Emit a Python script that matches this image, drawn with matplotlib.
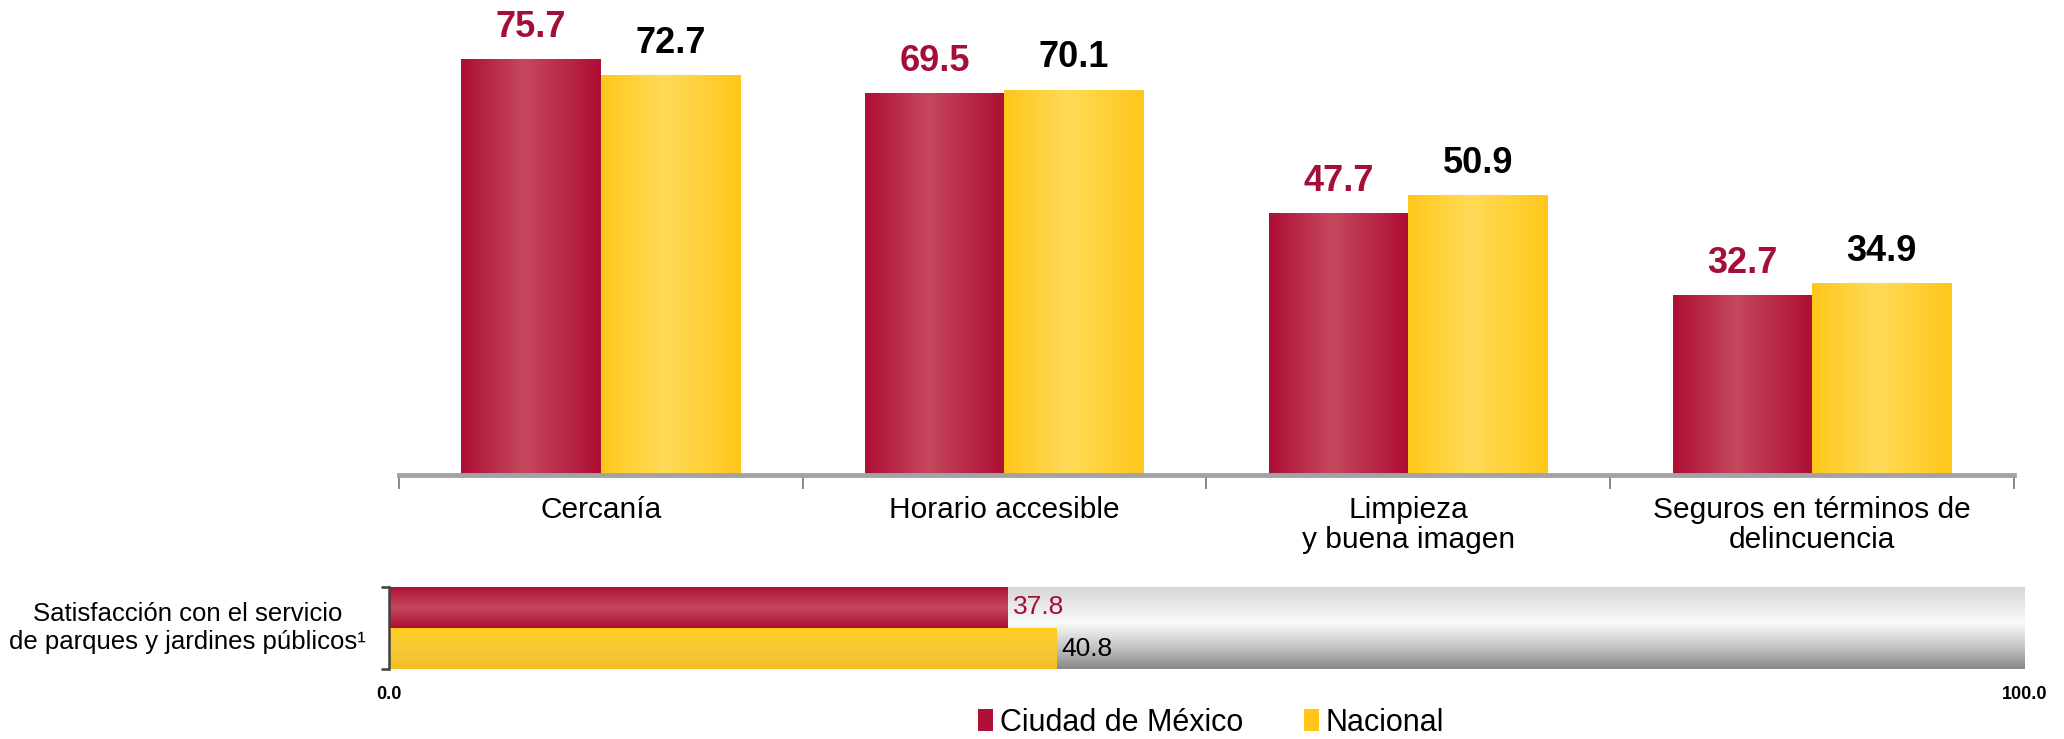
import numpy as np
import matplotlib
matplotlib.use("Agg")
import matplotlib.pyplot as plt
from matplotlib.colors import LinearSegmentedColormap
from matplotlib.patches import Patch

plt.rcParams['font.family'] = ['Liberation Sans', 'DejaVu Sans']

# ---------------- data ----------------
categories = ["Cercanía", "Horario accesible", "Limpieza\ny buena imagen",
              "Seguros en términos de\ndelincuencia"]
cdmx_values = [75.7, 69.5, 47.7, 32.7]
nacional_values = [72.7, 70.1, 50.9, 34.9]

satisfaction_label = "Satisfacción con el servicio\nde parques y jardines públicos¹"
satisfaction_cdmx = 37.8
satisfaction_nacional = 40.8
satisfaction_max = 100.0
bottom_ticks = [0.0, 100.0]
bottom_tick_labels = ["0.0", "100.0"]

series_names = ["Ciudad de México", "Nacional"]

RED = "#B01035"
RED_TXT = "#A50E37"
YEL = "#FFC61A"


def gradient_fill(ax, patch, colors, positions=None, horizontal=True):
    x0, y0 = patch.get_x(), patch.get_y()
    w, h = patch.get_width(), patch.get_height()
    if positions is None:
        cmap = LinearSegmentedColormap.from_list("g", colors)
    else:
        cmap = LinearSegmentedColormap.from_list("g", list(zip(positions, colors)))
    g = np.linspace(0, 1, 256)
    grad = g.reshape(1, -1) if horizontal else g.reshape(-1, 1)
    im = ax.imshow(grad, cmap=cmap, extent=[x0, x0 + w, y0, y0 + h],
                   aspect="auto", origin="lower", interpolation="bilinear",
                   zorder=patch.get_zorder() + 0.1)
    im.set_clip_path(patch)
    return im


fig = plt.figure(figsize=(20.64, 7.39), dpi=100)

# ---------------- top chart ----------------
ax = fig.add_axes([0.1932, 0.3572, 0.9758 - 0.1932, 1 - 0.3572])
x = np.arange(len(categories))
bw = 0.345
bars_r = ax.bar(x - bw / 2, cdmx_values, bw, color=RED, zorder=2, linewidth=0)
bars_y = ax.bar(x + bw / 2, nacional_values, bw, color=YEL, zorder=2, linewidth=0)
for p in bars_r:
    gradient_fill(ax, p, ["#AD0E33", "#C5485F", "#AD0E33"], [0, 0.45, 1])
for p in bars_y:
    gradient_fill(ax, p, ["#FFC71A", "#FFDB58", "#FFC71A"], [0, 0.45, 1])

for i, v in enumerate(cdmx_values):
    ax.annotate(f"{v:.1f}", (x[i] - bw / 2, v), xytext=(0, 16),
                textcoords="offset points", ha="center", va="baseline",
                fontsize=26, fontweight="bold", color=RED_TXT)
for i, v in enumerate(nacional_values):
    ax.annotate(f"{v:.1f}", (x[i] + bw / 2, v), xytext=(0, 16),
                textcoords="offset points", ha="center", va="baseline",
                fontsize=26, fontweight="bold", color="black")

ax.set_xlim(-0.5, len(categories) - 0.5)
ax.set_ylim(0, 86.4)
for s in ["top", "right", "left"]:
    ax.spines[s].set_visible(False)
ax.spines["bottom"].set_color("#A3A3A3")
ax.spines["bottom"].set_linewidth(3.5)
ax.spines["bottom"].set_zorder(3)
ax.set_yticks([])
ax.set_xticks(x)
ax.set_xticklabels(categories, fontsize=21.5, linespacing=1.1)
ax.tick_params(axis="x", which="major", length=0, pad=15)
ax.set_xticks(np.arange(-0.5, len(categories)), minor=True)
ax.tick_params(axis="x", which="minor", length=10, width=1.3, color="#7F7F7F",
               direction="out")

# ---------------- bottom bar ----------------
ax2 = fig.add_axes([0.1885, 0.0947, 0.9808 - 0.1885, 0.2057 - 0.0947])
bg = ax2.barh([0.5], [satisfaction_max], height=2.0, left=0, color="#D0D0D0",
              linewidth=0, zorder=1)
for p in bg:
    gradient_fill(ax2, p, ["#888888", "#C2C2C2", "#FAFAFA", "#D5D5D5"],
                  [0, 0.25, 0.55, 1], horizontal=False)
br = ax2.barh([1], [satisfaction_cdmx], height=1.0, color=RED, linewidth=0, zorder=2)
by = ax2.barh([0], [satisfaction_nacional], height=1.0, color=YEL, linewidth=0, zorder=2)
for p in br:
    gradient_fill(ax2, p, ["#AE0E35", "#C5475F", "#AE0E35"], [0, 0.5, 1],
                  horizontal=False)
for p in by:
    gradient_fill(ax2, p, ["#F2C022", "#F6C93A", "#FFCE1A"], [0, 0.5, 1],
                  horizontal=False)

ax2.annotate(f"{satisfaction_cdmx:.1f}", (satisfaction_cdmx, 1), xytext=(4, 0),
             textcoords="offset points", ha="left", va="center",
             fontsize=19, color=RED_TXT, zorder=5)
ax2.annotate(f"{satisfaction_nacional:.1f}", (satisfaction_nacional, 0), xytext=(4, 0),
             textcoords="offset points", ha="left", va="center",
             fontsize=19, color="black", zorder=5)

ax2.set_xlim(0, satisfaction_max)
ax2.set_ylim(-0.5, 1.5)
for s in ["top", "right", "bottom"]:
    ax2.spines[s].set_visible(False)
ax2.spines["left"].set_color("#404040")
ax2.spines["left"].set_linewidth(1.8)
ax2.spines["left"].set_zorder(4)
ax2.set_yticks([-0.5, 1.5])
ax2.set_yticklabels([])
ax2.tick_params(axis="y", length=6, width=1.8, color="#404040", direction="out")
ax2.set_xticks(bottom_ticks)
ax2.set_xticklabels(bottom_tick_labels, fontsize=13, fontweight="bold")
ax2.tick_params(axis="x", length=0, pad=12)

fig.text(0.1775, 0.150, satisfaction_label, ha="right", va="center",
         multialignment="center", fontsize=18.5, linespacing=1.2)

# ---------------- legend ----------------
handles = [Patch(facecolor=RED, edgecolor="none"),
           Patch(facecolor=YEL, edgecolor="none")]
fig.legend(handles, series_names, loc="center", bbox_to_anchor=(0.5867, 0.022),
           ncol=2, frameon=False, fontsize=22, handlelength=0.5,
           handleheight=0.75, handletextpad=0.2, columnspacing=2.0,
           borderpad=0.0)

fig.savefig("out.png", dpi=100)
